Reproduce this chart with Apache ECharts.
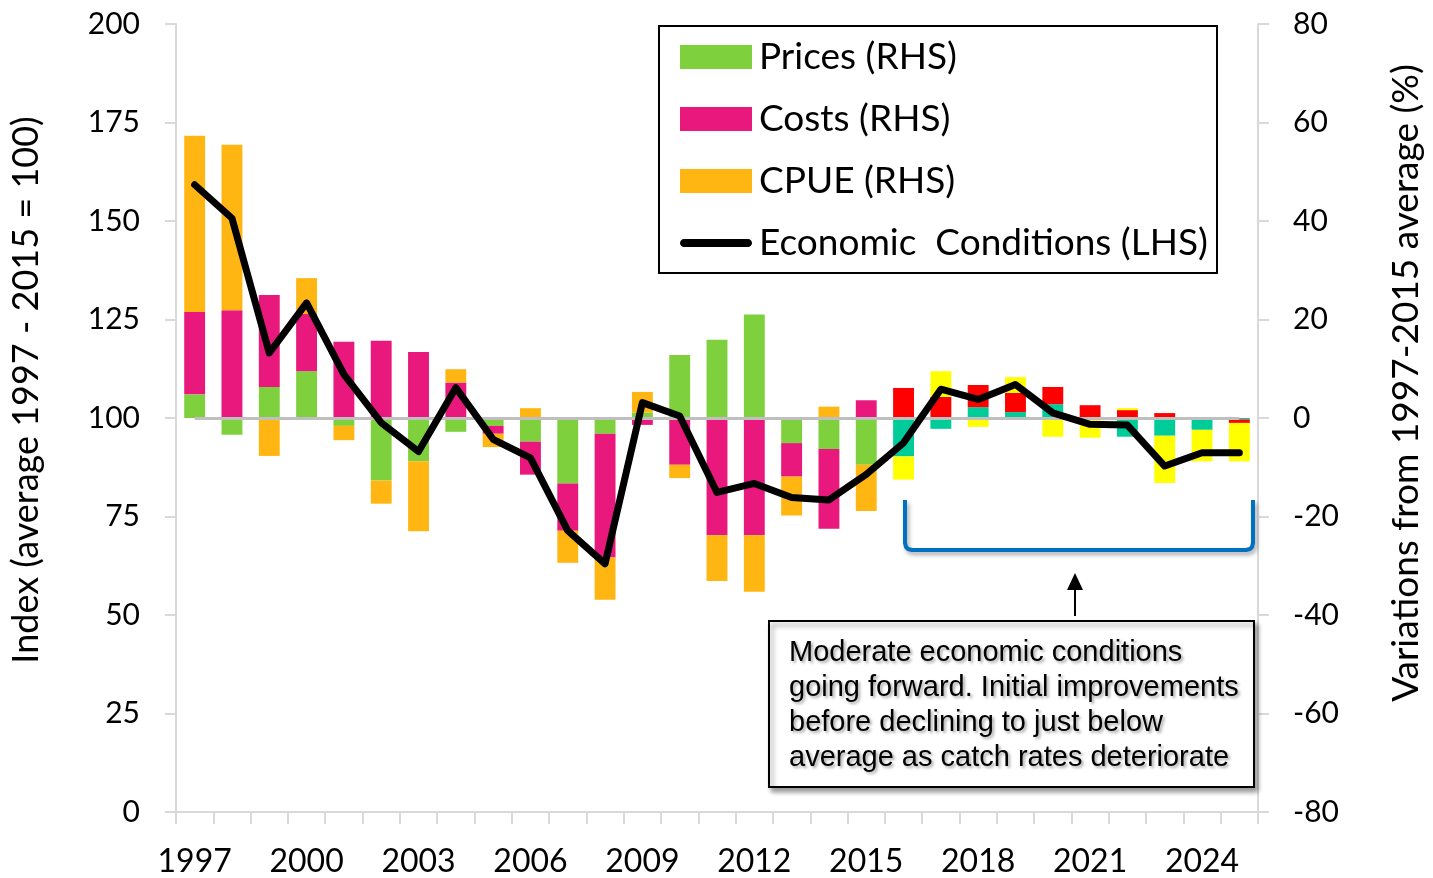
<!DOCTYPE html>
<html>
<head>
<meta charset="utf-8">
<script src="https://cdn.jsdelivr.net/npm/echarts@6/dist/echarts.min.js"></script>
<style>
html,body{margin:0;padding:0;background:#fff;}
#chart{width:1433px;height:878px;}
</style>
</head>
<body>
<div id="chart"></div>
<script>
const years = ['1997','1998','1999','2000','2001','2002','2003','2004','2005','2006','2007','2008','2009','2010','2011','2012','2013','2014','2015','2016','2017','2018','2019','2020','2021','2022','2023','2024','2025'];
const prices = [4.8,-3.4,6.3,9.5,-1.6,-12.7,-8.8,-2.8,-1.6,-4.8,-13.3,-3.2,1.1,12.8,15.9,21.0,-5.1,-6.3,-9.5,-7.8,-2.2,2.2,1.2,2.8,0,-3.8,-3.6,-2.4,-0.3];
const costs = [16.7,21.9,18.7,11.6,15.5,15.7,13.4,7.2,-1.6,-6.7,-9.6,-25.1,-1.4,-9.5,-23.8,-23.8,-6.8,-16.2,3.6,6.1,4.3,4.5,3.9,3.5,2.6,1.6,1.0,0,-0.7];
const cpue = [35.8,33.6,-7.7,7.3,-2.9,-4.7,-14.2,2.7,-2.7,2.0,-6.5,-8.6,4.2,-2.7,-9.3,-11.5,-7.9,2.3,-9.4,-4.7,5.2,-1.8,3.2,-3.8,-4.0,0.4,-9.6,-6.4,-7.8];
const econIndex = [159.2,150.7,116.5,129.2,111.1,98.8,91.5,107.7,94.6,89.9,71.4,63.0,103.9,100.5,81.1,83.4,79.8,79.2,85.7,93.7,107.3,104.7,108.5,101.3,98.4,98.2,87.8,91.2,91.2];
const forecastStart = '2016';
const leftTicks = {min:0, max:200, interval:25};
const rightTicks = {min:-80, max:80, interval:20};

const COLORS = {
  prices:['#7ed13c','#00cc99'],
  costs:['#e8187c','#ff0000'],
  cpue:['#ffb612','#ffff00']
};
const fIdx = years.indexOf(forecastStart);
function mk(arr, pair){
  return arr.map((v,i)=> i>=fIdx ? {value:v, itemStyle:{color:pair[1]}} : {value:v, itemStyle:{color:pair[0]}});
}
const FONT = 'Lato';
const LINE_ICON = 'path://M4,0 L68,0 C70.2,0 72,1.8 72,4 C72,6.2 70.2,8 68,8 L4,8 C1.8,8 0,6.2 0,4 C0,1.8 1.8,0 4,0 Z';
const chart = echarts.init(document.getElementById('chart'));
const barCommon = {type:'bar', stack:'total', yAxisIndex:1, barCategoryGap:'44%'};
chart.setOption({
  animation:false,
  textStyle:{fontFamily:FONT, color:'#000'},
  grid:{left:176, right:170, top:24, bottom:65},
  legend:{
    orient:'vertical', left:680, top:37, padding:0, itemGap:22,
    itemWidth:72, itemHeight:24, z:20,
    textStyle:{fontFamily:FONT, fontSize:37, lineHeight:40, color:'#000', padding:[0,0,0,2]},
    data:[
      {name:'Prices (RHS)', icon:'rect'},
      {name:'Costs (RHS)', icon:'rect'},
      {name:'CPUE (RHS)', icon:'rect'},
      {name:'Economic  Conditions (LHS)', icon:LINE_ICON, itemStyle:{color:'#000'}}
    ]
  },
  xAxis:{
    type:'category', data:years, boundaryGap:true,
    axisLine:{lineStyle:{color:'#d9d9d9', width:2}},
    axisTick:{show:true, interval:0, length:12, lineStyle:{color:'#d9d9d9', width:2}},
    axisLabel:{interval:2, fontSize:32, margin:34, color:'#000', fontFamily:FONT}
  },
  yAxis:[
    {type:'value', min:leftTicks.min, max:leftTicks.max, interval:leftTicks.interval, position:'left',
     name:'Index (average 1997 - 2015 = 100)', nameLocation:'middle', nameGap:132, nameRotate:90,
     nameTextStyle:{fontSize:36, color:'#000', fontFamily:FONT, padding:[0,0,0,56]},
     axisLine:{show:true, lineStyle:{color:'#d9d9d9', width:2}},
     axisTick:{show:true, length:11, lineStyle:{color:'#d9d9d9', width:2}},
     splitLine:{show:false},
     axisLabel:{fontSize:30, margin:36, color:'#000', fontFamily:FONT}},
    {type:'value', min:rightTicks.min, max:rightTicks.max, interval:rightTicks.interval, position:'right',
     name:'Variations from 1997-2015 average (%)', nameLocation:'middle', nameGap:130, nameRotate:90,
     nameTextStyle:{fontSize:37, color:'#000', fontFamily:FONT, padding:[0,0,0,70]},
     axisLine:{show:true, lineStyle:{color:'#d9d9d9', width:2}},
     axisTick:{show:true, length:11, lineStyle:{color:'#d9d9d9', width:2}},
     splitLine:{show:false},
     axisLabel:{fontSize:30, margin:35, color:'#000', fontFamily:FONT}}
  ],
  series:[
    Object.assign({name:'Prices (RHS)', data:mk(prices, COLORS.prices), itemStyle:{color:COLORS.prices[0]}}, barCommon),
    Object.assign({name:'Costs (RHS)', data:mk(costs, COLORS.costs), itemStyle:{color:COLORS.costs[0]}}, barCommon),
    Object.assign({name:'CPUE (RHS)', data:mk(cpue, COLORS.cpue), itemStyle:{color:COLORS.cpue[0]},
      markLine:{silent:true, symbol:['none','none'], z:4, label:{show:false},
        lineStyle:{color:'#bfbfbf', width:3, type:'solid'},
        data:[[{coord:[years[0],0]},{coord:[years[years.length-1],0]}]]}}, barCommon),
    {name:'Economic  Conditions (LHS)', type:'line', yAxisIndex:0, data:econIndex, symbol:'none', z:10,
     lineStyle:{color:'#000', width:7, cap:'round', join:'round'}, itemStyle:{color:'#000'}}
  ],
  graphic:[
    {type:'rect', z:5, shape:{x:659, y:26, width:558, height:247}, style:{fill:'#fff', stroke:'#000', lineWidth:2}},
    {type:'polyline', z:6, shape:{points:[[905,500],[905,543],[906,547],[908,549],[912,550],[1246,550],[1250,549],[1252,547],[1253,543],[1253,500]]},
     style:{fill:null, stroke:'#0070c0', lineWidth:4, lineJoin:'round', shadowColor:'rgba(0,0,0,0.35)', shadowBlur:4, shadowOffsetX:2, shadowOffsetY:3}},
    {type:'line', z:6, shape:{x1:1075, y1:588, x2:1075, y2:616}, style:{stroke:'#000', lineWidth:2}},
    {type:'polygon', z:6, shape:{points:[[1075,573],[1067,590],[1083,590]]}, style:{fill:'#000'}},
    {type:'rect', z:6, shape:{x:769, y:621, width:485, height:166},
     style:{fill:'#fff', stroke:'#000', lineWidth:2, shadowColor:'rgba(0,0,0,0.4)', shadowBlur:5, shadowOffsetX:3, shadowOffsetY:4}},
    {type:'text', z:7, left:789, top:635,
     style:{text:'Moderate economic conditions\ngoing forward. Initial improvements\nbefore declining to just below\naverage as catch rates deteriorate',
       font:'29px "Liberation Sans", Arial, sans-serif', lineHeight:35, fill:'#000',
       textShadowColor:'rgba(0,0,0,0.35)', textShadowBlur:3, textShadowOffsetX:2, textShadowOffsetY:2}}
  ]
});
</script>
</body>
</html>
